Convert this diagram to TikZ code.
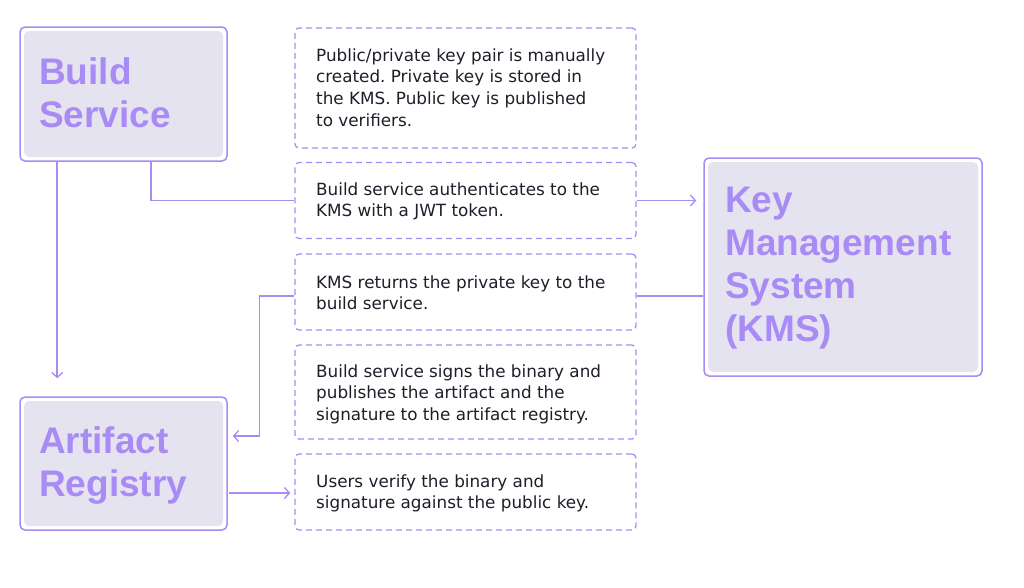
\documentclass[tikz,border=0pt]{standalone}
\usepackage{fontspec}
\setmainfont{DejaVu Sans}
\newfontfamily\titlefont{Liberation Sans}
\usetikzlibrary{arrows.meta,calc}
\definecolor{pline}{HTML}{A88BF4}
\definecolor{pfill}{HTML}{E6E3F1}
\definecolor{ptext}{HTML}{A98BF5}
\definecolor{dtext}{HTML}{1E1E2A}
\frenchspacing
\tikzset{
  bigbox/.style={draw=pline, line width=1.5pt, fill=white, rounded corners=5pt, inner sep=0pt,
    path picture={\fill[pfill] ($(path picture bounding box.south west)+(4pt,4pt)$) rectangle ($(path picture bounding box.north east)+(-4pt,-4pt)$);}},
  dbox/.style={draw=pline, line width=1.3pt, dash pattern=on 6pt off 4pt, rounded corners=4pt, inner sep=0pt, minimum width=341pt},
  title/.style={anchor=north west, align=left, inner sep=0pt, text=ptext, font=\titlefont\fontsize{37}{43}\selectfont\bfseries},
  desc/.style={anchor=north west, align=left, inner sep=0pt, text=dtext, font=\fontsize{16.8}{21.7}\selectfont},
  conn/.style={draw=pline, line width=1.6pt},
  arr/.style={conn, -{Straight Barb[length=5pt,width=11pt,line width=1.3pt]}}
}
\begin{document}
\begin{tikzpicture}[x=1pt,y=-1pt]
\useasboundingbox (0,0) rectangle (1024,587);
% main boxes
\node[bigbox, minimum width=207pt, minimum height=134pt] (build) at (123.5,94) {};
\node[bigbox, minimum width=207pt, minimum height=133pt] (art) at (123.5,463.5) {};
\node[bigbox, minimum width=278pt, minimum height=218pt] (kms) at (843,267) {};
\node[title] (buildt) at (39,57.5) {Build\\Service};
\node[title] (artt) at (39,426.5) {Artifact\\Registry};
\node[title] (kmst) at (725,187) {Key\\Management\\System\\(KMS)};
% dashed boxes
\node[dbox, minimum height=120pt] (d1) at (465.5,88) {};
\node[dbox, minimum height=76pt] (d2) at (465.5,200.5) {};
\node[dbox, minimum height=76pt] (d3) at (465.5,292) {};
\node[dbox, minimum height=94pt] (d4) at (465.5,392) {};
\node[dbox, minimum height=76pt] (d5) at (465.5,492) {};
\node[desc] (t1) at (316,48.3) {Public/private key pair is manually\\created. Private key is stored in\\the KMS. Public key is published\\to verifiers.};
\node[desc] (t2) at (316,182.3) {Build service authenticates to the\\KMS with a JWT token.};
\node[desc] (t3) at (316,275.3) {KMS returns the private key to the\\build service.};
\node[desc] (t4) at (316,364.3) {Build service signs the binary and\\publishes the artifact and the\\signature to the artifact registry.};
\node[desc] (t5) at (316,474.3) {Users verify the binary and\\signature against the public key.};
% connectors
\coordinate (b1) at ($(build.south west)+(38,0)$);
\coordinate (a1) at ($(art.north west)+(38,-18)$);
\draw[arr] (b1) -- (a1);
\coordinate (b2) at ($(build.south west)+(132,0)$);
\draw[conn] (b2) |- (d2.west);
\coordinate (k1) at ($(kms.west |- d2.east)+(-7,0)$);
\draw[arr] (d2.east) -- (k1);
\coordinate (k2) at ($(kms.west)+(0,29)$);
\draw[conn] (k2) -- (d3.east |- k2);
\coordinate (a2) at ($(art.east)+(5,-27.5)$);
\draw[arr] (d3.west |- k2) -- ++(-35,0) |- (a2);
\coordinate (d5w) at ($(d5.west)+(-4,1)$);
\draw[arr] ($(art.east)+(1,29.5)$) -- (d5w);
\end{tikzpicture}
\end{document}
